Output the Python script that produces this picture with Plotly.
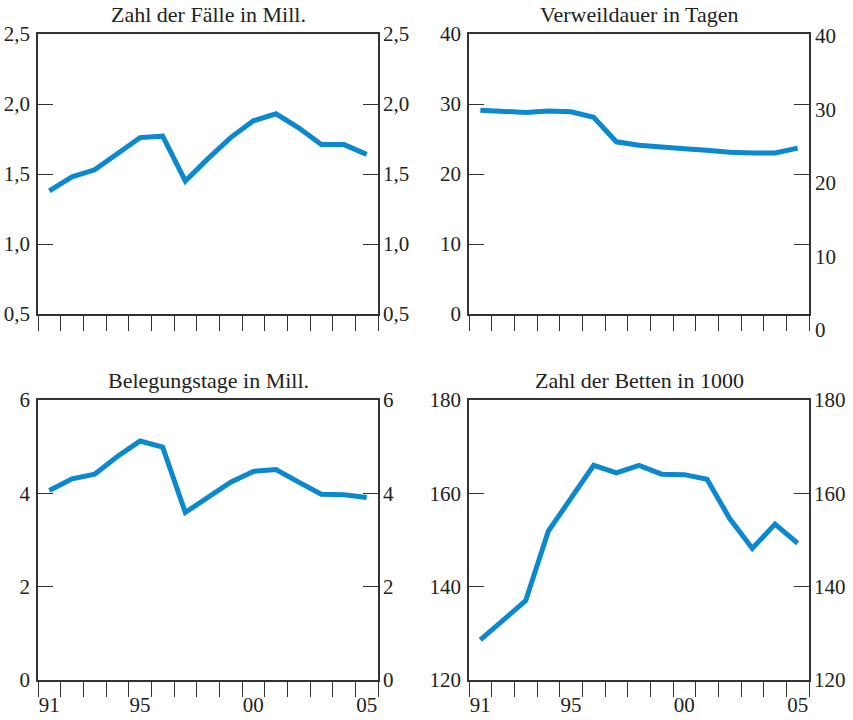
import plotly.graph_objects as go

years = list(range(1991, 2006))
year_labels = ["91", "95", "00", "05"]
year_label_pos = [1991, 1995, 2000, 2005]

faelle = [1.38, 1.48, 1.53, 1.64, 1.76, 1.77, 1.45, 1.61, 1.76, 1.88, 1.93, 1.83, 1.71, 1.71, 1.64]
verweildauer = [29.1, 28.9, 28.8, 29.0, 28.9, 28.1, 24.6, 24.1, 23.8, 23.6, 23.4, 23.1, 23.0, 23.0, 23.7]
belegungstage = [4.06, 4.31, 4.41, 4.79, 5.12, 4.99, 3.59, 3.91, 4.24, 4.47, 4.51, 4.24, 3.98, 3.97, 3.91]
betten = [128.6, 132.8, 137.0, 151.9, 159.0, 166.0, 164.4, 166.0, 164.1, 164.0, 163.0, 154.6, 148.2, 153.4, 149.3]

titles = ["Zahl der Fälle in Mill.", "Verweildauer in Tagen", "Belegungstage in Mill.", "Zahl der Betten in 1000"]
series = [faelle, verweildauer, belegungstage, betten]
y_ranges = [[0.5, 2.5], [0, 40], [0, 6], [120, 180]]
y_ticks = [[0.5, 1.0, 1.5, 2.0, 2.5], [0, 10, 20, 30, 40], [0, 2, 4, 6], [120, 140, 160, 180]]
y_fmt = [".1f", "d", "d", "d"]
# right-hand labels of panel 2 (printed slightly shifted in the original)
p2_right_labels = ["40", "30", "20", "10", "0"]
p2_right_pos = [1.0 - 2 / 280, 1.0 - 76 / 280, 1.0 - 149 / 280, 1.0 - 223 / 280, 1.0 - 296 / 280]

W, H = 853, 720
col_x = [(38, 378), (469, 809)]
row_y = [(34, 314), (400, 680)]

LINE = "#0a88d0"
AX = "#333333"
TXT = "#222222"
FONT = "Liberation Serif"
TICKFS = 21
TITLEFS = 22

fig = go.Figure()
layout = dict(
    width=W, height=H, margin=dict(l=0, r=0, t=0, b=0, autoexpand=False),
    paper_bgcolor="white", plot_bgcolor="white", showlegend=False,
    separators=",.", font=dict(family=FONT, size=TICKFS, color=TXT),
)
annotations = []

for i in range(4):
    r, c = divmod(i, 2)
    n = i + 1
    xa = "x" if n == 1 else f"x{n}"
    ya = "y" if n == 1 else f"y{n}"
    yr_name = f"y{n + 4}"
    xd = [col_x[c][0] / W, col_x[c][1] / W]
    yd = [1 - row_y[r][1] / H, 1 - row_y[r][0] / H]

    fig.add_trace(go.Scatter(x=years, y=series[i], mode="lines", xaxis=xa, yaxis=ya,
                             line=dict(color=LINE, width=5), hoverinfo="skip"))
    fig.add_trace(go.Scatter(x=years, y=series[i], mode="lines", xaxis=xa, yaxis=yr_name,
                             line=dict(color="rgba(0,0,0,0)", width=0), hoverinfo="skip"))

    layout[f"xaxis{'' if n == 1 else n}"] = dict(
        domain=xd, anchor=ya, range=[1990.5, 2005.5], automargin=False,
        tickvals=year_label_pos if r == 1 else [], ticktext=year_labels if r == 1 else [],
        ticks="", showticklabels=(r == 1), showgrid=False, zeroline=False,
        showline=True, linecolor=AX, linewidth=1.5, mirror=True, ticklabelstandoff=5,
        tickfont=dict(family=FONT, size=TICKFS, color=TXT),
        minor=dict(tickmode="array", tickvals=[y - 0.5 for y in years] + [2005.5],
                   ticks="outside", ticklen=15, tickwidth=1, tickcolor=AX, showgrid=False),
    )
    layout[f"yaxis{'' if n == 1 else n}"] = dict(
        domain=yd, anchor=xa, range=y_ranges[i], tickvals=y_ticks[i], tickformat=y_fmt[i],
        ticks="inside", ticklen=15, tickwidth=1, tickcolor=AX, automargin=False,
        showgrid=False, zeroline=False, showline=True, linecolor=AX, linewidth=1.5,
        mirror="ticks", ticklabelstandoff=2,
        tickfont=dict(family=FONT, size=TICKFS, color=TXT),
    )
    layout[f"yaxis{n + 4}"] = dict(
        overlaying=ya, anchor=xa, side="right", range=y_ranges[i], tickvals=y_ticks[i],
        tickformat=y_fmt[i], ticks="", showgrid=False, zeroline=False, showline=False,
        showticklabels=(i != 1), ticklabelstandoff=4, automargin=False,
        tickfont=dict(family=FONT, size=TICKFS, color=TXT),
    )
    annotations.append(dict(
        text=titles[i], xref=f"{xa} domain", yref=f"{ya} domain", x=0.5, y=1,
        xanchor="center", yanchor="bottom", yshift=5, showarrow=False,
        font=dict(family=FONT, size=TITLEFS, color=TXT),
    ))

for lab, pos in zip(p2_right_labels, p2_right_pos):
    annotations.append(dict(
        text=lab, xref="x2 domain", yref="y2 domain", x=1, y=pos, xanchor="left",
        yanchor="middle", xshift=4, showarrow=False,
        font=dict(family=FONT, size=TICKFS, color=TXT),
    ))

layout["annotations"] = annotations
fig.update_layout(**layout)
fig.write_html("out.html", config={"displayModeBar": False},
               post_script="document.body.style.margin='0';")
